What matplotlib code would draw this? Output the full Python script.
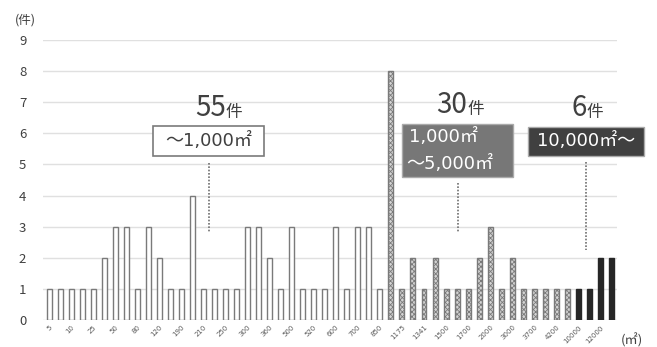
import matplotlib.pyplot as plt
from matplotlib.patches import Rectangle

plt.rcParams['font.family'] = ['Noto Sans CJK JP', 'DejaVu Sans']

# 件数 (bars in order of area)
small_counts = [1, 1, 1, 1, 1, 2, 3, 3, 1, 3, 2, 1, 1, 4, 1, 1,
                1, 1, 3, 3, 2, 1, 3, 1, 1, 1, 3, 1, 3, 3, 1]
mid_counts = [8, 1, 2, 1, 2, 1, 1, 1, 2, 3, 1, 2, 1, 1, 1, 1, 1]
large_counts = [1, 1, 2, 2]

# every other bar carries an area label
area_labels = ['5', '10', '25', '50', '80', '120', '190', '210', '250',
               '300', '360', '500', '520', '600', '700', '850', '1175',
               '1341', '1500', '1700', '2000', '3000', '3700', '4200',
               '10000', '12000']

n_small = len(small_counts)
n_mid = len(mid_counts)
n_large = len(large_counts)
x_small = list(range(n_small))
x_mid = list(range(n_small, n_small + n_mid))
x_large = list(range(n_small + n_mid, n_small + n_mid + n_large))

fig = plt.figure(figsize=(6.57, 3.47), dpi=100)
ax = fig.add_axes([0.0654, 0.0778, 0.8737, 0.807])

w = 0.45
ax.bar(x_small, small_counts, width=w, color='white', edgecolor='#7a7a7a',
       linewidth=1.0, zorder=3)
plt.rcParams['hatch.color'] = '#808080'
plt.rcParams['hatch.linewidth'] = 0.6
ax.bar(x_mid, mid_counts, width=w, color='#d4d4d4', edgecolor='#7a7a7a',
       hatch='xxxxxxx', linewidth=1.0, zorder=3)
ax.bar(x_large, large_counts, width=w, color='#262626', edgecolor='#262626',
       linewidth=1.0, zorder=3)

ax.set_xlim(-0.55, 51.5)
ax.set_ylim(0, 9)
ax.set_yticks(range(10))
ax.yaxis.grid(True, color='#e0e0e0', linewidth=1.0, zorder=0)
ax.set_axisbelow(True)
for s in ax.spines.values():
    s.set_visible(False)
ax.tick_params(axis='both', length=0)
ax.tick_params(axis='y', labelsize=9.5, labelcolor='#404040', pad=12)

ax.set_xticks(range(0, n_small + n_mid + n_large, 2))
ax.set_xticklabels(area_labels, rotation=45, ha='right', rotation_mode='anchor',
                   fontsize=5, color='#595959', family='DejaVu Sans')
ax.tick_params(axis='x', pad=3)

fig.text(25 / 657, 1 - 20 / 347, '(件)', fontsize=9, color='#404040',
         ha='center', va='center')
fig.text(632 / 657, 1 - 340 / 347, '(㎡)', fontsize=9.5, color='#404040',
         ha='center', va='center')

box_font = ['DejaVu Sans', 'Noto Sans CJK JP']

# group headings and boxes
def heading(x, y, num):
    ax.annotate(num, (x, y), ha='right', va='center', fontsize=20,
                color='#404040', annotation_clip=False)
    ax.annotate('件', (x, y - 0.12), ha='left', va='center', fontsize=12,
                color='#404040', annotation_clip=False)

heading(16.0, 6.8, '55')
heading(37.9, 6.9, '30')
heading(48.75, 6.8, '6')

ax.add_patch(Rectangle((9.43, 5.27), 10.06, 0.97, facecolor='white',
                       edgecolor='#7a7a7a', linewidth=1.2, zorder=5,
                       clip_on=False))
ax.text(14.46, 5.74, '～1,000㎡', ha='center', va='center', fontsize=13,
        color='#404040', zorder=6, family=box_font)

ax.add_patch(Rectangle((32.0, 4.6), 10.07, 1.7, facecolor='#777777',
                       edgecolor='#aaaaaa', linewidth=1.0, zorder=5,
                       clip_on=False))
ax.text(32.6, 5.87, '1,000㎡', ha='left', va='center', fontsize=13,
        color='white', zorder=6, family=box_font)
ax.text(32.4, 5.0, '～5,000㎡', ha='left', va='center', fontsize=13,
        color='white', zorder=6, family=box_font)

ax.add_patch(Rectangle((43.43, 5.27), 10.51, 0.94, facecolor='#404040',
                       edgecolor='#aaaaaa', linewidth=1.0, zorder=5,
                       clip_on=False))
ax.text(48.68, 5.74, '10,000㎡～', ha='center', va='center', fontsize=13,
        color='white', zorder=6, clip_on=False, family=box_font)

# dotted leaders
for x, y0, y1 in [(14.5, 5.05, 2.83), (37.1, 4.4, 2.83), (48.7, 5.08, 2.25)]:
    ax.plot([x, x], [y0, y1], color='#707070', linestyle=(0, (1, 1)),
            linewidth=1.2, zorder=4)

fig.savefig('out.png', dpi=100)
